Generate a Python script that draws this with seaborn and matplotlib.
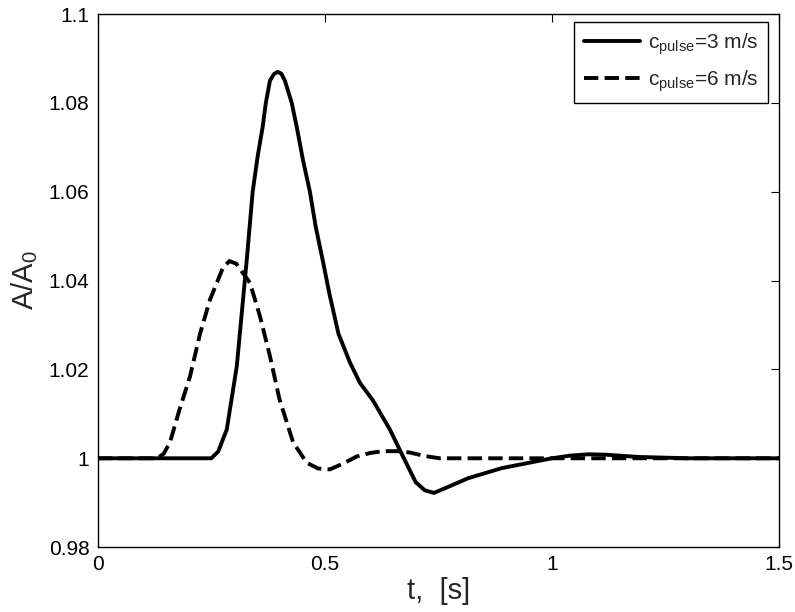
import matplotlib
matplotlib.use("Agg")
import matplotlib.pyplot as plt
import seaborn as sns
import pandas as pd

# solid curve, pulse speed 3 m/s
t_slow = [0, 0.25, 0.265, 0.284, 0.306, 0.328, 0.341, 0.352, 0.363, 0.37,
          0.379, 0.388, 0.396, 0.404, 0.412, 0.427, 0.438, 0.452, 0.467, 0.48,
          0.495, 0.51, 0.53, 0.555, 0.577, 0.606, 0.643, 0.672, 0.70, 0.72,
          0.74, 0.77, 0.815, 0.89, 0.95, 1.0, 1.04, 1.08, 1.12, 1.19, 1.3, 1.5]
a_slow = [1.0, 1.0, 1.0015, 1.0065, 1.0207, 1.0447, 1.06, 1.068, 1.0746, 1.08,
          1.085, 1.0865, 1.087, 1.0866, 1.085, 1.08, 1.0746, 1.067, 1.06, 1.052,
          1.0447, 1.037, 1.028, 1.0216, 1.017, 1.013, 1.0065, 1.0004, 0.9946,
          0.9928, 0.9922, 0.9935, 0.9955, 0.9978, 0.999, 1.0, 1.0006, 1.0009,
          1.0008, 1.0003, 1.0, 1.0]

# dashed curve, pulse speed 6 m/s
t_fast = [0, 0.13, 0.145, 0.159, 0.18, 0.203, 0.225, 0.247, 0.276, 0.29, 0.305,
          0.335, 0.357, 0.379, 0.40, 0.43, 0.46, 0.485, 0.511, 0.54, 0.57, 0.6,
          0.628, 0.66, 0.687, 0.72, 0.753, 1.5]
a_fast = [1.0, 1.0, 1.001, 1.0036, 1.011, 1.0184, 1.028, 1.0357, 1.043, 1.0444,
          1.0438, 1.0395, 1.032, 1.023, 1.0133, 1.0036, 0.999, 0.9977, 0.9975,
          0.9988, 1.0004, 1.0012, 1.0016, 1.0016, 1.0013, 1.0005, 1.0, 1.0]

labels = [r"c$_{\rm pulse}$=3 m/s", r"c$_{\rm pulse}$=6 m/s"]
x_ticks = [0, 0.5, 1, 1.5]
x_tick_labels = ["0", "0.5", "1", "1.5"]
y_ticks = [0.98, 1.0, 1.02, 1.04, 1.06, 1.08, 1.1]
y_tick_labels = ["0.98", "1", "1.02", "1.04", "1.06", "1.08", "1.1"]

sns.set_style("white")
plt.rcParams["font.family"] = ["Liberation Sans", "DejaVu Sans"]
plt.rcParams["mathtext.fontset"] = "custom"
plt.rcParams["mathtext.rm"] = "Liberation Sans"
plt.rcParams["mathtext.it"] = "Liberation Sans:italic"

df_slow = pd.DataFrame({"t": t_slow, "A": a_slow})
df_fast = pd.DataFrame({"t": t_fast, "A": a_fast})

fig = plt.figure(figsize=(7.95, 6.12), dpi=100)
ax = fig.add_axes([0.123, 0.106, 0.857, 0.871])

sns.lineplot(data=df_slow, x="t", y="A", color="black", linewidth=2.8,
             label=labels[0], ax=ax, sort=False)
sns.lineplot(data=df_fast, x="t", y="A", color="black", linewidth=2.8,
             linestyle="--", label=labels[1], ax=ax, sort=False)

ax.set_xlim(0, 1.5)
ax.set_ylim(0.98, 1.1)
ax.set_xticks(x_ticks)
ax.set_xticklabels(x_tick_labels)
ax.set_yticks(y_ticks)
ax.set_yticklabels(y_tick_labels)
ax.tick_params(direction="in", length=6, width=0.8, labelsize=15,
               top=True, right=True, colors="black", pad=6)
for s in ax.spines.values():
    s.set_color("black")
    s.set_linewidth(1.0)

ax.set_xlabel("t,  [s]", fontsize=21, labelpad=2)
ax.set_ylabel(r"A/A$_0$", fontsize=21, labelpad=6)

leg = ax.legend(loc="upper right", fontsize=15, frameon=True, fancybox=False,
                edgecolor="black", framealpha=1, handlelength=2.7,
                handletextpad=0.4, borderpad=0.45, labelspacing=0.55,
                borderaxespad=0, bbox_to_anchor=(0.984, 0.985))
leg.get_frame().set_linewidth(1.0)

fig.savefig("out.png", dpi=100)
